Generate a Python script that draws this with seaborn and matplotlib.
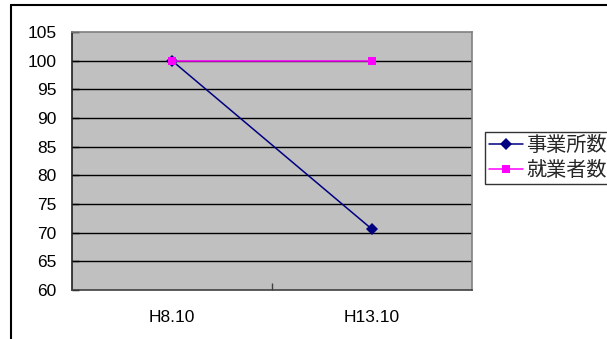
import matplotlib
matplotlib.use("Agg")
import matplotlib.pyplot as plt
from matplotlib.lines import Line2D
import seaborn as sns
import pandas as pd

categories = ["H8.10", "H13.10"]
series_names = ["事業所数", "就業者数"]
establishments = [100, 70.6]
workers = [100, 100]
yticks = [60, 65, 70, 75, 80, 85, 90, 95, 100, 105]

sns.set_theme(style="white")
plt.rcParams['font.family'] = ['Liberation Sans', 'Noto Sans CJK JP', 'DejaVu Sans']

df = pd.DataFrame({
    "x": list(range(len(categories))) * 2,
    "value": establishments + workers,
    "series": [series_names[0]] * len(categories) + [series_names[1]] * len(categories),
})

W, H = 607, 339
fig = plt.figure(figsize=(W / 100, H / 100), dpi=100, facecolor="white")
left, right, top, bottom = 72, 472, 32, 290
ax = fig.add_axes([left / W, 1 - bottom / H, (right - left) / W, (bottom - top) / H])
ax.set_facecolor("#C0C0C0")

palette = {series_names[0]: "#000080", series_names[1]: "#FF00FF"}
markers = {series_names[0]: "D", series_names[1]: "s"}
sns.lineplot(data=df, x="x", y="value", hue="series", style="series",
             palette=palette, markers=markers, dashes=False, sort=False,
             markersize=6, linewidth=1.1, markeredgewidth=0, ax=ax, legend=True)

ax.set_xlim(-0.5, len(categories) - 0.5)
ax.set_ylim(60, 105)
ax.set_yticks(yticks)
ax.set_yticklabels([str(v) for v in yticks], fontsize=12.5, color="black")
ax.set_xticks([0.5])
ax.set_xticklabels([""])
ax.set_xlabel("")
ax.set_ylabel("")
for i, c in enumerate(categories):
    ax.text(i, -0.105, c, transform=ax.get_xaxis_transform(), ha="center", va="center",
            fontsize=12.5, color="black")

for v in yticks[1:-1]:
    ax.axhline(v, color="black", linewidth=1, zorder=1)

ax.tick_params(axis="y", direction="in", length=5, width=1, color="black", left=True, pad=11)
ax.tick_params(axis="x", direction="in", length=5, width=1, color="#404040", bottom=True)

ax.spines["left"].set_color("#202020")
ax.spines["bottom"].set_color("#404040")
ax.spines["top"].set_color("#808080")
ax.spines["right"].set_color("#808080")
for s in ax.spines.values():
    s.set_linewidth(1.2)
    s.set_visible(True)

handles, labels = ax.get_legend_handles_labels()
leg = ax.legend(handles, labels, loc="upper left",
                bbox_to_anchor=(485 / W, 1 - 132 / H), bbox_transform=fig.transFigure,
                frameon=True, fancybox=False, fontsize=14.5, borderpad=0.2,
                handlelength=1.7, handletextpad=0.15, labelspacing=0.3,
                borderaxespad=0)
leg.get_frame().set_edgecolor("black")
leg.get_frame().set_linewidth(1)
leg.get_frame().set_facecolor("white")

bx = 11 / W
by = 1 - 5 / H
fig.add_artist(Line2D([bx, 1.02], [by, by], transform=fig.transFigure, color="black", linewidth=1.5))
fig.add_artist(Line2D([bx, bx], [-0.02, by], transform=fig.transFigure, color="black", linewidth=1.5))

fig.savefig("out.png", dpi=100, facecolor="white")
